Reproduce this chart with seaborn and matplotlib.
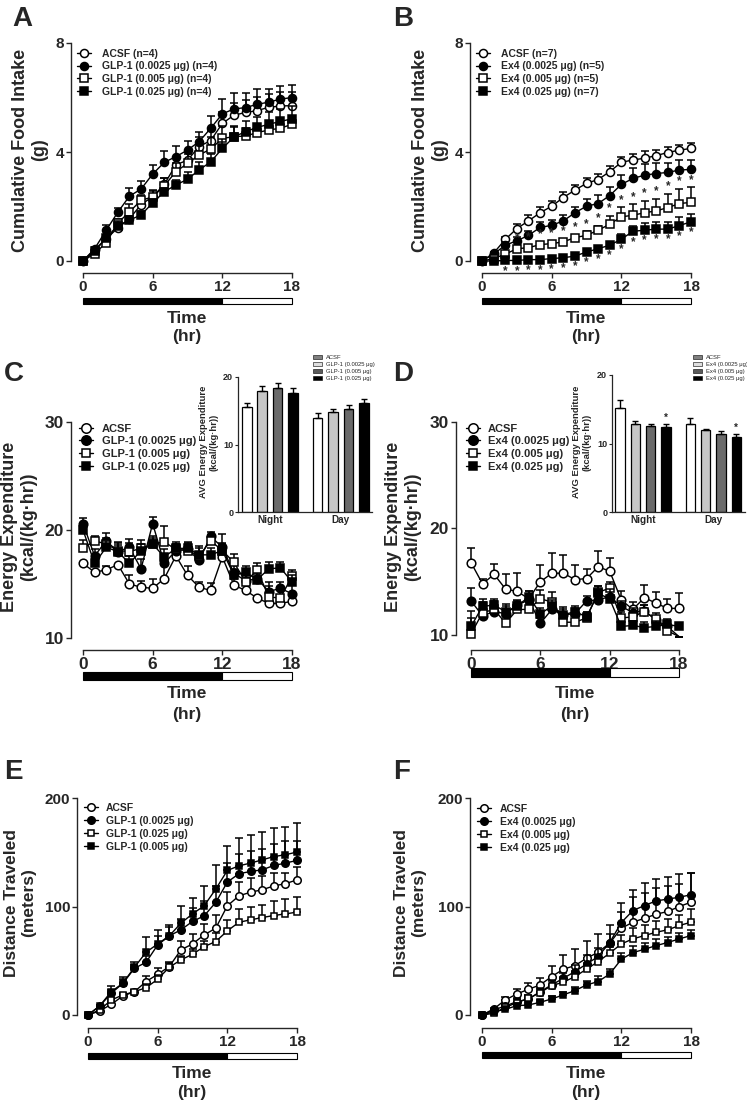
import numpy as np
import pandas as pd
import matplotlib
matplotlib.use("Agg")
import matplotlib.pyplot as plt
import matplotlib.transforms as mtrans
from matplotlib.lines import Line2D
from matplotlib.patches import Rectangle, Patch
import seaborn as sns

sns.set_style("ticks")
plt.rcParams['font.family'] = ['Liberation Sans', 'DejaVu Sans']
plt.rcParams['axes.linewidth'] = 1.0

# ---------------- DATA ----------------
hours = list(range(19))
time_ticks = [0, 6, 12, 18]

# Panel A: cumulative food intake, GLP-1
a_labels = ['ACSF (n=4)', 'GLP-1 (0.0025 μg) (n=4)', 'GLP-1 (0.005 μg) (n=4)', 'GLP-1 (0.025 μg) (n=4)']
a_acsf = [0, 0.42, 0.82, 1.21, 1.55, 2.07, 2.36, 2.81, 3.53, 3.70, 4.20, 4.42, 5.05, 5.35, 5.45, 5.52, 5.64, 5.69, 5.70]
a_glp0025 = [0, 0.45, 1.13, 1.79, 2.38, 2.64, 3.19, 3.62, 3.83, 4.07, 4.38, 4.87, 5.40, 5.58, 5.63, 5.75, 5.83, 5.94, 6.00]
a_glp005 = [0, 0.27, 0.67, 1.40, 1.80, 2.23, 2.35, 2.76, 3.28, 3.58, 3.89, 4.11, 4.50, 4.56, 4.59, 4.71, 4.81, 4.87, 5.02]
a_glp025 = [0, 0.35, 0.85, 1.30, 1.50, 1.69, 2.13, 2.54, 2.79, 3.00, 3.34, 3.64, 4.13, 4.55, 4.75, 4.90, 5.02, 5.12, 5.22]
a_acsf_err = [0, 0.05, 0.10, 0.10, 0.15, 0.20, 0.20, 0.25, 0.30, 0.30, 0.35, 0.35, 0.40, 0.45, 0.45, 0.50, 0.50, 0.50, 0.50]
a_glp0025_err = [0, 0.05, 0.20, 0.15, 0.30, 0.30, 0.35, 0.40, 0.40, 0.35, 0.35, 0.45, 0.55, 0.60, 0.55, 0.55, 0.50, 0.50, 0.45]
a_glp005_err = [0, 0.05, 0.10, 0.15, 0.30, 0.20, 0.25, 0.30, 0.30, 0.35, 0.40, 0.45, 0.45, 0.35, 0.30, 0.30, 0.25, 0.25, 0.25]
a_glp025_err = [0, 0.05, 0.10, 0.15, 0.15, 0.15, 0.15, 0.15, 0.20, 0.25, 0.30, 0.30, 0.35, 0.40, 0.40, 0.40, 0.45, 0.45, 0.45]

# Panel B: cumulative food intake, Ex4
b_labels = ['ACSF (n=7)', 'Ex4 (0.0025 μg) (n=5)', 'Ex4 (0.005 μg) (n=5)', 'Ex4 (0.025 μg) (n=7)']
b_acsf = [0, 0.29, 0.79, 1.19, 1.47, 1.77, 2.01, 2.33, 2.60, 2.85, 2.99, 3.28, 3.62, 3.71, 3.77, 3.87, 3.98, 4.07, 4.13]
b_ex0025 = [0, 0.25, 0.58, 0.74, 0.94, 1.23, 1.31, 1.47, 1.77, 2.01, 2.11, 2.40, 2.81, 3.03, 3.15, 3.21, 3.25, 3.34, 3.36]
b_ex005 = [0, 0.09, 0.25, 0.45, 0.49, 0.60, 0.64, 0.70, 0.86, 0.94, 1.13, 1.35, 1.62, 1.68, 1.77, 1.84, 1.96, 2.11, 2.15]
b_ex025 = [0, 0.00, 0.02, 0.02, 0.05, 0.05, 0.09, 0.12, 0.18, 0.33, 0.45, 0.58, 0.80, 1.09, 1.13, 1.17, 1.17, 1.30, 1.44]
b_acsf_err = [0, 0.05, 0.10, 0.15, 0.20, 0.20, 0.20, 0.20, 0.20, 0.20, 0.20, 0.20, 0.20, 0.20, 0.25, 0.20, 0.20, 0.20, 0.20]
b_ex0025_err = [0, 0.05, 0.10, 0.15, 0.15, 0.20, 0.20, 0.20, 0.20, 0.25, 0.30, 0.30, 0.35, 0.40, 0.40, 0.40, 0.35, 0.35, 0.35]
b_ex005_err = [0, 0.02, 0.05, 0.10, 0.10, 0.10, 0.10, 0.10, 0.10, 0.15, 0.15, 0.30, 0.35, 0.40, 0.45, 0.45, 0.50, 0.55, 0.55]
b_ex025_err = [0, 0, 0, 0, 0, 0, 0, 0, 0.05, 0.05, 0.10, 0.10, 0.20, 0.20, 0.25, 0.25, 0.25, 0.30, 0.30]
b_star_mid_hours = list(range(3, 19))
b_star_low_hours = list(range(2, 19))

# Panel C: energy expenditure, GLP-1
c_labels = ['ACSF', 'GLP-1 (0.0025 μg)', 'GLP-1 (0.005 μg)', 'GLP-1 (0.025 μg)']
c_acsf = [16.9, 16.1, 16.3, 16.8, 15.0, 14.7, 14.6, 15.5, 17.6, 15.8, 14.7, 14.4, 17.5, 14.9, 14.4, 13.7, 13.2, 13.2, 13.4]
c_glp0025 = [20.6, 17.6, 19.0, 18.0, 18.4, 16.4, 20.6, 16.9, 18.1, 18.2, 17.2, 19.4, 18.4, 16.0, 15.3, 15.5, 14.3, 14.6, 14.1]
c_glp005 = [18.3, 19.0, 18.7, 18.1, 18.0, 18.3, 18.7, 18.9, 18.2, 18.1, 17.6, 19.0, 18.1, 17.0, 15.2, 16.3, 13.8, 13.7, 15.7]
c_glp025 = [20.0, 16.9, 18.4, 18.0, 16.9, 18.1, 18.7, 17.5, 18.3, 18.3, 17.7, 17.7, 18.1, 15.8, 16.1, 15.4, 16.4, 16.5, 15.2]
c_acsf_err = [0, 0, 0.4, 0, 0.8, 0.6, 0.9, 1.3, 0, 0.9, 0.5, 0.7, 0, 0.6, 0.5, 0, 0, 0, 0]
c_glp0025_err = [0.5, 0.6, 0.7, 0.8, 0.8, 0.9, 0.6, 0.9, 0.6, 0.6, 0.8, 0.4, 1.2, 0.9, 0.9, 0.7, 0.9, 0.6, 0.8]
c_glp005_err = [0.8, 0.4, 0.6, 0.8, 0.8, 0.8, 0.6, 1.5, 0.5, 0.6, 0.9, 0.5, 0.7, 0.8, 0.8, 0.6, 1.0, 1.0, 0.6]
c_glp025_err = [0.6, 0.5, 0.6, 0.6, 0.7, 0.6, 0.7, 0.7, 0.6, 0.6, 0.6, 0.6, 0.6, 0.6, 0.6, 0.6, 0.6, 0.5, 0.6]

c_bar_periods = ['Night', 'Day']
c_bar_groups = ['ACSF', 'GLP-1 (0.0025 μg)', 'GLP-1 (0.005 μg)', 'GLP-1 (0.025 μg)']
c_bar_night = [15.6, 18.0, 18.3, 17.6]
c_bar_day = [13.9, 14.8, 15.2, 16.1]
c_bar_night_err = [0.5, 0.6, 0.8, 0.7]
c_bar_day_err = [0.8, 0.4, 0.6, 0.6]

# Panel D: energy expenditure, Ex4
d_labels = ['ACSF', 'Ex4 (0.0025 μg)', 'Ex4 (0.005 μg)', 'Ex4 (0.025 μg)']
d_acsf = [16.8, 14.8, 15.7, 14.3, 14.1, 13.4, 15.0, 15.8, 15.8, 15.2, 15.3, 16.4, 16.0, 13.3, 12.4, 13.5, 13.0, 12.5, 12.5]
d_ex0025 = [13.2, 11.8, 12.2, 12.0, 12.8, 13.3, 11.1, 12.4, 11.9, 12.0, 13.2, 13.3, 13.6, 12.7, 12.1, 12.3, 11.4, 10.8, 9.85]
d_ex005 = [10.1, 12.1, 12.4, 11.1, 12.4, 12.4, 13.4, 13.1, 11.2, 11.2, 11.6, 14.0, 14.4, 11.6, 11.7, 12.2, 11.5, 10.4, 9.85]
d_ex025 = [10.8, 12.7, 12.8, 12.2, 12.7, 13.6, 12.0, 12.7, 11.9, 12.2, 11.7, 13.9, 13.4, 10.8, 10.9, 10.7, 10.8, 11.0, 10.8]
d_acsf_err = [1.4, 0.5, 1.0, 1.4, 1.7, 0.7, 1.6, 1.9, 1.7, 1.4, 0.9, 1.5, 1.2, 0.8, 0.7, 1.2, 1.0, 0.9, 1.4]
d_ex0025_err = [1.2, 1.0, 1.0, 0.7, 0.5, 0.4, 0.5, 0.6, 0.7, 0.5, 0.5, 0.5, 0.6, 0.5, 0.4, 0.5, 0.4, 0.4, 0]
d_ex005_err = [1.5, 1.0, 0.8, 0.6, 0.5, 0.5, 0.8, 0.9, 0.8, 0.6, 0.6, 0.6, 0.6, 0.6, 0.6, 0.6, 0.6, 0.6, 0]
d_ex025_err = [1.5, 0.7, 0.6, 0.7, 0.5, 0.5, 0.5, 0.6, 0.5, 0.5, 0.5, 0.7, 0.9, 0.5, 0.4, 0.5, 0.5, 0.5, 0.3]

d_bar_groups = ['ACSF', 'Ex4 (0.0025 μg)', 'Ex4 (0.005 μg)', 'Ex4 (0.025 μg)']
d_bar_night = [15.2, 12.8, 12.5, 12.4]
d_bar_day = [12.9, 11.9, 11.4, 11.0]
d_bar_night_err = [1.2, 0.5, 0.35, 0.4]
d_bar_day_err = [0.8, 0.25, 0.45, 0.35]

# Panel E: distance traveled, GLP-1
e_labels = ['ACSF', 'GLP-1 (0.0025 μg)', 'GLP-1 (0.025 μg)', 'GLP-1 (0.005 μg)']
e_acsf = [0, 3.7, 9.8, 17.5, 21.5, 30.8, 37.5, 44.6, 60.0, 65.5, 73.8, 80.0, 100.6, 109.8, 113.2, 115.4, 119.0, 121.0, 124.6]
e_glp0025 = [0, 8.3, 20.0, 29.2, 43.0, 48.6, 64.6, 72.9, 78.5, 86.2, 91.4, 103.7, 122.5, 130.2, 132.3, 133.8, 137.8, 140.0, 142.5]
e_glp025 = [0, 4.6, 13.8, 18.5, 21.5, 25.2, 32.9, 44.0, 50.8, 56.0, 63.0, 67.7, 77.5, 85.5, 87.7, 89.8, 91.7, 93.2, 94.8]
e_glp005 = [0, 8.3, 21.5, 29.2, 44.0, 57.8, 65.5, 72.9, 84.6, 93.2, 100.6, 116.0, 133.2, 137.5, 140.0, 143.0, 146.0, 147.7, 150.2]
e_acsf_err = [0, 1, 2, 2, 2, 5, 6, 4, 8, 9, 10, 12, 13, 13, 13, 13, 12, 10, 12]
e_glp0025_err = [0, 1, 3, 4, 3, 6, 8, 10, 10, 12, 14, 15, 18, 18, 19, 19, 20, 20, 18]
e_glp025_err = [0, 1, 2, 2, 2, 3, 4, 4, 4, 5, 5, 8, 10, 12, 12, 12, 13, 14, 14]
e_glp005_err = [0, 1, 5, 6, 5, 14, 13, 8, 16, 15, 18, 22, 23, 26, 26, 26, 26, 26, 27]

# Panel F: distance traveled, Ex4
f_labels = ['ACSF', 'Ex4 (0.0025 μg)', 'Ex4 (0.005 μg)', 'Ex4 (0.025 μg)']
f_acsf = [0, 5.5, 13.8, 19.4, 23.7, 27.7, 35.4, 42.2, 45.5, 52.3, 57.8, 66.2, 80.0, 85.5, 89.2, 92.9, 95.4, 100.0, 104.0]
f_ex0025 = [0, 4.6, 8.3, 12.3, 14.5, 21.5, 27.7, 33.8, 40.0, 47.0, 53.8, 66.8, 85.2, 96.3, 100.9, 105.2, 106.8, 108.6, 110.8]
f_ex005 = [0, 1.5, 7.0, 11.4, 15.4, 20.6, 27.1, 30.2, 35.4, 42.2, 49.2, 57.0, 65.5, 70.2, 73.2, 76.3, 78.5, 82.5, 85.5]
f_ex025 = [0, 3.0, 5.2, 8.6, 9.2, 11.7, 14.8, 18.5, 22.5, 27.7, 30.8, 37.8, 51.4, 57.5, 60.6, 64.0, 66.8, 70.2, 73.2]
f_acsf_err = [0, 1, 3, 5, 6, 6, 10, 13, 15, 16, 17, 17, 23, 30, 32, 32, 32, 30, 27]
f_ex0025_err = [0, 1, 2, 3, 3, 3, 5, 5, 6, 8, 8, 8, 10, 12, 12, 12, 12, 12, 20]
f_ex005_err = [0, 1, 2, 3, 3, 3, 4, 5, 5, 6, 6, 6, 8, 10, 10, 10, 10, 10, 12]
f_ex025_err = [0, 1, 1, 2, 2, 2, 3, 3, 3, 4, 5, 5, 6, 6, 6, 6, 5, 5, 5]

# ---------------- FIGURE ----------------
W, H = 747, 1104
fig = plt.figure(figsize=(W / 100, H / 100), dpi=100)
fig.patch.set_facecolor('white')

def fx(px):
    return px / W

def fy(py):
    return 1 - py / H

STYLES = [('o', 'white'), ('o', 'black'), ('s', 'white'), ('s', 'black')]
MEW = 1.1


def make_main(left, top, bottom, x0, x18, right, ylo, yhi, yticks, axis_y, tick_fs):
    ax = fig.add_axes([fx(left), fy(bottom), (right - left) / W, (bottom - top) / H])
    ax.set_facecolor('none')
    s = (x18 - x0) / 18.0
    xlim = (-(x0 - left) / s, 18 + (right - x18) / s)
    ax.spines['top'].set_visible(False)
    ax.spines['right'].set_visible(False)
    ax.spines['bottom'].set_position(('outward', (axis_y - bottom) * 0.72))
    ax.spines['bottom'].set_bounds(0, 18)
    ax.spines['left'].set_linewidth(1.0)
    ax.spines['bottom'].set_linewidth(1.0)
    ax.set_xticks(time_ticks)
    ax.set_xticklabels([str(t) for t in time_ticks])
    ax.set_yticks(yticks)
    ax.set_yticklabels([str(v) for v in yticks])
    ax.tick_params(axis='both', direction='out', length=3.5, width=1.0, pad=1.5, labelsize=tick_fs)
    for lab in ax.get_xticklabels() + ax.get_yticklabels():
        lab.set_fontweight('bold')
    ax.set_xlabel('')
    ax.set_ylabel('')
    return ax, xlim


def finish(ax, xlim, ylo, yhi):
    ax.set_xlim(*xlim)
    ax.set_ylim(ylo, yhi)
    ax.set_xlabel('')
    ax.set_ylabel('')


def light_bar(ax, top, bottom):
    trans = mtrans.blended_transform_factory(ax.transData, fig.transFigure)
    ax.add_patch(Rectangle((0, fy(bottom)), 12, (bottom - top) / H, transform=trans,
                           facecolor='black', edgecolor='black', lw=0.8, clip_on=False))
    ax.add_patch(Rectangle((12, fy(bottom)), 6, (bottom - top) / H, transform=trans,
                           facecolor='white', edgecolor='black', lw=0.8, clip_on=False))


def plot_series(ax, series, errs, ms, ylo, cap=2.8):
    for i, (y, e) in enumerate(zip(series, errs)):
        mk, fc = STYLES[i]
        z = 3 + i
        ax.errorbar(hours, y, yerr=[np.zeros(len(e)), e], fmt='none', ecolor='black',
                    elinewidth=1.1, capsize=cap, capthick=1.1, zorder=z, clip_on=False)
        keep = [k for k, v in enumerate(y) if v >= ylo - 1e-9]
        sns.lineplot(x=hours, y=y, ax=ax, color='black', linewidth=1.0, marker=mk,
                     markersize=ms * (0.92 if mk == 's' else 1.0), markerfacecolor=fc,
                     markeredgecolor='black', markeredgewidth=MEW, markevery=keep,
                     errorbar=None, zorder=z + 0.5, clip_on=False, legend=False)


def make_legend(ax, labels, ms, marker_x, text_x, first_y, spacing, fs=7.5):
    fs_px = fs * 100 / 72
    hl = 1.3
    left = marker_x - hl * fs_px / 2
    htp = (text_x - (left + hl * fs_px)) / fs_px
    text_h = fs_px * 1.16
    top = first_y - text_h / 2
    ls = (spacing - text_h) / fs_px
    handles = [Line2D([], [], color='black', lw=1.0, marker=mk,
                      markersize=ms * (0.92 if mk == 's' else 1.0),
                      markerfacecolor=fc, markeredgecolor='black', markeredgewidth=MEW)
               for mk, fc in STYLES]
    ax.legend(handles, labels, loc='upper left', bbox_to_anchor=(fx(left), fy(top)),
              bbox_transform=fig.transFigure, frameon=False, handlelength=hl,
              handletextpad=htp, labelspacing=ls, borderpad=0, borderaxespad=0,
              prop={'weight': 'bold', 'size': fs})


def axis_texts(xc, time_y, hr_y, ylab, ylab_x, ylab_y, ylab_fs, t_fs=12.5):
    fig.text(fx(xc), fy(time_y), 'Time', ha='center', va='center', fontsize=t_fs, fontweight='bold')
    fig.text(fx(xc), fy(hr_y), '(hr)', ha='center', va='center', fontsize=t_fs, fontweight='bold')
    fig.text(fx(ylab_x), fy(ylab_y), ylab, ha='center', va='center', rotation=90,
             fontsize=ylab_fs, fontweight='bold', multialignment='center', linespacing=1.15)


def panel_letter(x, y, letter):
    fig.text(fx(x), fy(y), letter, ha='left', va='top', fontsize=20, fontweight='bold')


def make_inset(left, top, bottom, right, groups, night, day, night_err, day_err, stars, xl):
    ax = fig.add_axes([fx(left), fy(bottom), (right - left) / W, (bottom - top) / H])
    ax.set_facecolor('none')
    df = pd.DataFrame({
        'period': ['Night'] * 4 + ['Day'] * 4,
        'group': groups + groups,
        'value': night + day,
    })
    pal = ['white', '#c6c6c6', '#6a6a6a', 'black']
    sns.barplot(data=df, x='period', y='value', hue='group', order=c_bar_periods,
                hue_order=groups, palette=pal, edgecolor='black', linewidth=0.9,
                width=0.87, gap=0.38, errorbar=None, ax=ax, legend=False)
    errs = [[night_err[i], day_err[i]] for i in range(4)]
    bar_conts = list(ax.containers)[:4]
    for gi, cont in enumerate(bar_conts):
        for pj, bar in enumerate(list(cont.patches)):
            xc = bar.get_x() + bar.get_width() / 2
            h = bar.get_height()
            e = errs[gi][pj]
            ax.errorbar([xc], [h], yerr=[[0], [e]], fmt='none', ecolor='black',
                        elinewidth=1.0, capsize=2.2, capthick=1.0, zorder=5)
            if stars and gi == 3:
                ax.text(xc, h + e + 0.2, '*', ha='center', va='bottom', fontsize=7, fontweight='bold')
    ax.set_xlim(*xl)
    ax.set_ylim(0, 20)
    ax.set_yticks([0, 10, 20])
    ax.set_yticklabels(['0', '10', '20'])
    ax.spines['top'].set_visible(False)
    ax.spines['right'].set_visible(False)
    ax.tick_params(axis='y', direction='out', length=2.5, width=0.8, pad=1, labelsize=6.5)
    ax.tick_params(axis='x', length=0, pad=2, labelsize=7.2)
    for lab in ax.get_xticklabels():
        lab.set_fontweight('bold')
    for lab in ax.get_yticklabels():
        lab.set_fontweight('bold')
    ax.spines['left'].set_linewidth(0.9)
    ax.spines['bottom'].set_linewidth(0.9)
    ax.set_xlabel('')
    ax.set_ylabel('')
    return ax


def inset_legend(ax, groups, x_left, y_top):
    cols = ['#808080', '#dedede', '#5a5a5a', 'black']
    handles = [Patch(facecolor=c, edgecolor='black', linewidth=0.4) for c in cols]
    ax.legend(handles, groups, loc='upper left', bbox_to_anchor=(fx(x_left), fy(y_top)),
              bbox_transform=fig.transFigure, frameon=False, fontsize=4.2,
              handlelength=1.6, handleheight=0.6, handletextpad=0.6, labelspacing=0.35,
              borderpad=0, borderaxespad=0)


# ---- Panel A ----
axA, xlA = make_main(71, 43, 261, 83, 292, 300, 0, 8, [0, 4, 8], 273, 11)
plot_series(axA, [a_acsf, a_glp0025, a_glp005, a_glp025],
            [a_acsf_err, a_glp0025_err, a_glp005_err, a_glp025_err], 5.8, 0)
make_legend(axA, a_labels, 5.8, 84, 102, 55, 14.6)
light_bar(axA, 298, 304)
finish(axA, xlA, 0, 8)
axis_texts(187, 318, 337, 'Cumulative Food Intake\n(g)', 30, 150, 13)
panel_letter(12, 6, 'A')

# ---- Panel B ----
axB, xlB = make_main(470, 43, 261, 482, 691, 699, 0, 8, [0, 4, 8], 273, 11)
plot_series(axB, [b_acsf, b_ex0025, b_ex005, b_ex025],
            [b_acsf_err, b_ex0025_err, b_ex005_err, b_ex025_err], 5.8, 0)
for t in b_star_mid_hours:
    axB.text(t, b_ex005[t] + b_ex005_err[t] + 0.06, '*', ha='center', va='bottom',
             fontsize=8.5, fontweight='bold', zorder=10)
for t in b_star_low_hours:
    axB.text(t, b_ex025[t] - 0.16, '*', ha='center', va='top',
             fontsize=8.5, fontweight='bold', zorder=10)
make_legend(axB, b_labels, 5.8, 483, 501, 55, 14.6)
light_bar(axB, 298, 304)
finish(axB, xlB, 0, 8)
axis_texts(586, 318, 337, 'Cumulative Food Intake\n(g)', 430, 150, 13)
panel_letter(393, 6, 'B')

# ---- Panel C ----
axC, xlC = make_main(71, 422, 638, 83, 292, 300, 10, 30, [10, 20, 30], 650, 12.5)
plot_series(axC, [c_acsf, c_glp0025, c_glp005, c_glp025],
            [c_acsf_err, c_glp0025_err, c_glp005_err, c_glp025_err], 6.2, 10)
make_legend(axC, c_labels, 6.8, 86, 102, 430, 15.7, fs=8)
light_bar(axC, 672, 680)
finish(axC, xlC, 10, 30)
axis_texts(187, 694, 714, 'Energy Expenditure\n(kcal/(kg·hr))', 19, 527, 13)
panel_letter(4, 361, 'C')
inC = make_inset(238, 377, 512, 372, c_bar_groups, c_bar_night, c_bar_day,
                 c_bar_night_err, c_bar_day_err, False, (-0.45, 1.44))
fig.text(fx(209), fy(442), 'AVG Energy Expenditure\n(kcal/(kg·hr))', ha='center', va='center',
         rotation=90, fontsize=6.8, fontweight='bold', multialignment='center', linespacing=1.15)
inset_legend(inC, c_bar_groups, 313, 355)

# ---- Panel D ----
axD, xlD = make_main(456, 422, 635, 471, 679, 687, 10, 30, [10, 20, 30], 650, 12.5)
plot_series(axD, [d_acsf, d_ex0025, d_ex005, d_ex025],
            [d_acsf_err, d_ex0025_err, d_ex005_err, d_ex025_err], 6.2, 10)
make_legend(axD, d_labels, 6.8, 473, 488, 430, 15.7, fs=8)
light_bar(axD, 668, 677)
finish(axD, xlD, 10, 30)
axis_texts(575, 694, 714, 'Energy Expenditure\n(kcal/(kg·hr))', 403, 527, 13)
panel_letter(393, 361, 'D')
inD = make_inset(612, 375, 512, 745, d_bar_groups, d_bar_night, d_bar_day,
                 d_bar_night_err, d_bar_day_err, True, (-0.44, 1.45))
fig.text(fx(582), fy(442), 'AVG Energy Expenditure\n(kcal/(kg·hr))', ha='center', va='center',
         rotation=90, fontsize=6.8, fontweight='bold', multialignment='center', linespacing=1.15)
inset_legend(inD, d_bar_groups, 693, 355)

# ---- Panel E ----
axE, xlE = make_main(77, 798, 1015, 88, 297, 305, 0, 200, [0, 100, 200], 1028, 11)
plot_series(axE, [e_acsf, e_glp0025, e_glp025, e_glp005],
            [e_acsf_err, e_glp0025_err, e_glp025_err, e_glp005_err], 5.4, 0)
make_legend(axE, e_labels, 5.4, 91, 106, 809, 15)
light_bar(axE, 1053, 1059)
finish(axE, xlE, 0, 200)
axis_texts(192, 1073, 1093, 'Distance Traveled\n(meters)', 20, 903, 12.5)
panel_letter(4, 759, 'E')

# ---- Panel F ----
axF, xlF = make_main(470, 798, 1015, 482, 691, 699, 0, 200, [0, 100, 200], 1028, 11)
plot_series(axF, [f_acsf, f_ex0025, f_ex005, f_ex025],
            [f_acsf_err, f_ex0025_err, f_ex005_err, f_ex025_err], 5.4, 0)
make_legend(axF, f_labels, 5.4, 484, 500, 810, 15)
light_bar(axF, 1052, 1058)
finish(axF, xlF, 0, 200)
axis_texts(586, 1073, 1093, 'Distance Traveled\n(meters)', 410, 903, 12.5)
panel_letter(393, 759, 'F')

fig.savefig('out.png', dpi=100, facecolor='white')
